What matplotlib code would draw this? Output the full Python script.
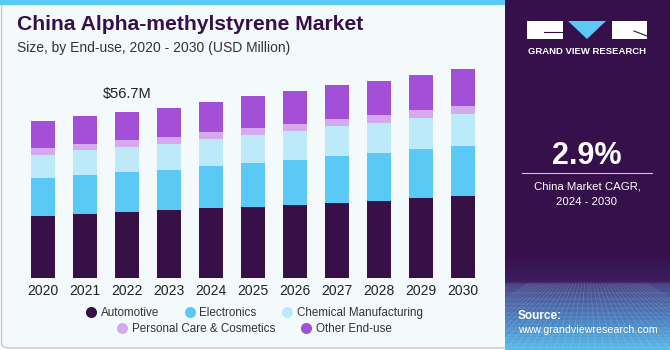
import matplotlib
matplotlib.use("Agg")
import matplotlib.pyplot as plt
from matplotlib.patches import Rectangle, Polygon, FancyBboxPatch
from matplotlib.lines import Line2D
from matplotlib.colors import LinearSegmentedColormap
import numpy as np

years = ["2020", "2021", "2022", "2023", "2024", "2025", "2026", "2027", "2028", "2029", "2030"]
automotive = [21.3, 21.9, 22.5, 23.1, 23.8, 24.3, 24.8, 25.7, 26.3, 27.2, 27.9]
electronics = [12.9, 13.3, 13.7, 13.8, 14.4, 15.0, 15.4, 15.9, 16.3, 16.8, 17.2]
chemical = [7.9, 8.3, 8.5, 8.8, 9.2, 9.4, 9.8, 10.1, 10.2, 10.5, 10.9]
personal = [2.3, 2.3, 2.4, 2.3, 2.4, 2.5, 2.5, 2.6, 2.7, 2.7, 2.7]
other = [9.2, 9.5, 9.6, 10.1, 10.2, 10.7, 11.1, 11.5, 11.6, 12.0, 12.4]
series_names = ["Automotive", "Electronics", "Chemical Manufacturing",
                "Personal Care & Cosmetics", "Other End-use"]
colors = ["#371047", "#5bc9f6", "#bdeaf9", "#d5a9ed", "#a34fd8"]
annot_label = "$56.7M"
annot_index = 2

W, H = 670, 350
fig = plt.figure(figsize=(W / 100, H / 100), dpi=100)
fig.patch.set_facecolor("white")

def fx(px):
    return px / W

def fy(py):
    return 1 - py / H

# left panel background
bg = FancyBboxPatch((fx(1.5), fy(348)), fx(510) - fx(1.5), fy(2) - fy(348),
                    boxstyle="round,pad=0,rounding_size=0.012",
                    transform=fig.transFigure, facecolor="#f4f9fc",
                    edgecolor="#c8c8c8", linewidth=1.0, zorder=-3)
fig.patches.append(bg)
fig.patches.append(Rectangle((0, fy(5)), fx(505), fy(0) - fy(5),
                             transform=fig.transFigure, facecolor="#5bc9f6",
                             edgecolor="none", zorder=-2))

# right panel
fig.patches.append(Rectangle((fx(505), 0), fx(670) - fx(505), 1,
                             transform=fig.transFigure, facecolor="#36104a",
                             edgecolor="none", zorder=-1))
# gradient decoration at bottom of right panel
gax = fig.add_axes([fx(505), 0, fx(670) - fx(505), fy(250)])
gax.set_zorder(0)
cmap = LinearSegmentedColormap.from_list(
    "g", [(0.0, "#56bce9"), (0.3, "#4a7fc0"), (0.66, "#4a4688"), (0.67, "#3c2060"), (1.0, "#36104a")])
grad = np.linspace(0, 1, 200).reshape(-1, 1)
gax.imshow(grad, aspect="auto", cmap=cmap, origin="lower", extent=[0, 1, 0, 1])
horizon = 0.67
for i in range(-10, 31):
    xb = i / 20
    xt = 0.5 + (xb - 0.5) * 0.35
    gax.plot([xb, xt], [0, horizon], color="white", lw=0.35, alpha=0.22)
for j in range(16):
    yv = horizon * (1 - (j / 16) ** 0.7)
    gax.plot([0, 1], [yv, yv], color="white", lw=0.35, alpha=0.22)
gax.set_xlim(0, 1)
gax.set_ylim(0, 1)
gax.axis("off")

# main axes
left_px, right_px = 22, 484
base_px, top_px = 278, 43.4
ax = fig.add_axes([fx(left_px), fy(base_px), fx(right_px) - fx(left_px), fy(top_px) - fy(base_px)])
ax.set_zorder(1)
ax.set_facecolor("none")
x = np.arange(len(years))
bottom = np.zeros(len(years))
for vals, c, name in zip([automotive, electronics, chemical, personal, other], colors, series_names):
    ax.bar(x, vals, width=0.57, bottom=bottom, color=c, edgecolor="none", label=name, zorder=2)
    bottom = bottom + np.array(vals)
ax.set_xlim(-0.5, len(years) - 0.5)
ax.set_ylim(0, 80)
ax.set_xticks(x)
ax.set_xticklabels(years, fontsize=10, color="#222222", family="Liberation Sans")
ax.tick_params(axis="x", length=0, pad=4)
ax.set_yticks([])
for s in ax.spines.values():
    s.set_visible(False)
ax.text(x[annot_index], bottom[annot_index] + 3.5, annot_label, ha="center", va="bottom",
        fontsize=10.5, color="#222222", family="Liberation Sans")

# titles
fig.text(fx(17), fy(25), "China Alpha-methylstyrene Market", fontsize=15.2, fontweight="bold",
         color="#36104a", ha="left", va="center", family="Liberation Sans")
fig.text(fx(17), fy(48), "Size, by End-use, 2020 - 2030 (USD Million)", fontsize=10,
         color="#333333", ha="left", va="center", family="Liberation Sans")

# legend
def handle(c):
    return Line2D([], [], marker="o", linestyle="none", markersize=8,
                  markerfacecolor=c, markeredgecolor="none")

leg_prop = {"family": "Liberation Sans", "size": 8.4}
leg1 = fig.legend([handle(c) for c in colors[:3]], series_names[:3], ncol=3,
                  loc="center", bbox_to_anchor=(fx(254), fy(313)), frameon=False,
                  prop=leg_prop, handletextpad=0.35, columnspacing=2.1, handlelength=1.0)
leg2 = fig.legend([handle(c) for c in colors[3:]], series_names[3:], ncol=2,
                  loc="center", bbox_to_anchor=(fx(254), fy(329)), frameon=False,
                  prop=leg_prop, handletextpad=0.35, columnspacing=2.1, handlelength=1.0)
for lg in (leg1, leg2):
    for t in lg.get_texts():
        t.set_color("#333333")

# logo
fig.patches.append(Rectangle((fx(527), fy(39)), fx(563) - fx(527), fy(21) - fy(39),
                             transform=fig.transFigure, facecolor="white", edgecolor="none", zorder=3))
fig.patches.append(Polygon([(fx(568), fy(21)), (fx(606), fy(21)), (fx(587), fy(39))],
                           closed=True, transform=fig.transFigure, facecolor="#5bc9f6",
                           edgecolor="none", zorder=3))
fig.patches.append(Rectangle((fx(612), fy(39)), fx(647) - fx(612), fy(21) - fy(39),
                             transform=fig.transFigure, facecolor="white", edgecolor="none", zorder=3))
fig.lines.append(Line2D([fx(544), fx(562)], [fy(32), fy(32)], transform=fig.transFigure,
                        color="#36104a", lw=0.8, zorder=4))
fig.lines.append(Line2D([fx(634), fx(647)], [fy(31), fy(36)], transform=fig.transFigure,
                        color="#36104a", lw=0.8, zorder=4))
fig.text(fx(587), fy(51), "GRAND VIEW RESEARCH", fontsize=6.8, fontweight="bold",
         color="white", ha="center", va="center", family="Liberation Sans")

fig.text(fx(587), fy(156), "2.9%", fontsize=22, fontweight="bold", color="white",
         ha="center", va="center", family="Liberation Sans")
fig.lines.append(Line2D([fx(522), fx(652)], [fy(173), fy(173)], transform=fig.transFigure,
                        color="#d0c4d8", lw=0.8))
fig.text(fx(587), fy(186), "China Market CAGR,", fontsize=8.2, color="white",
         ha="center", va="center", family="Liberation Sans")
fig.text(fx(587), fy(202), "2024 - 2030", fontsize=8.2, color="white",
         ha="center", va="center", family="Liberation Sans")
fig.text(fx(518), fy(316), "Source:", fontsize=8.5, fontweight="bold", color="white",
         ha="left", va="center", family="Liberation Sans", zorder=5)
fig.text(fx(518), fy(330), "www.grandviewresearch.com", fontsize=7.7, color="white",
         ha="left", va="center", family="Liberation Sans", zorder=5)

fig.savefig("out.png", dpi=100, facecolor=fig.get_facecolor())
